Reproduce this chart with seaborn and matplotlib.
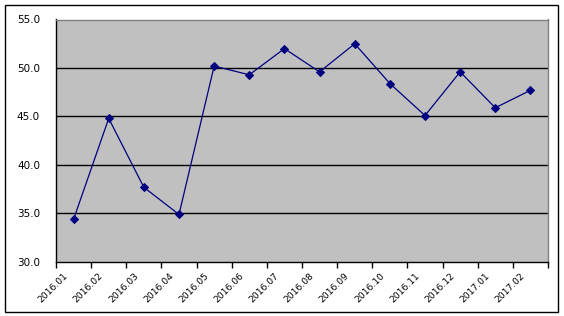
import matplotlib
matplotlib.use("Agg")
import matplotlib.pyplot as plt
import seaborn as sns
import pandas as pd
from matplotlib.patches import Rectangle
from matplotlib.ticker import FixedLocator, FixedFormatter
from matplotlib.transforms import ScaledTranslation

months = ["2016.01", "2016.02", "2016.03", "2016.04", "2016.05", "2016.06", "2016.07",
          "2016.08", "2016.09", "2016.10", "2016.11", "2016.12", "2017.01", "2017.02"]
values = [34.4, 44.8, 37.7, 34.9, 50.2, 49.3, 52.0, 49.6, 52.5, 48.4, 45.1, 49.6, 45.9, 47.7]
y_ticks = [30.0, 35.0, 40.0, 45.0, 50.0, 55.0]

sns.set_theme(style="white")
plt.rcParams['font.family'] = ['DejaVu Sans']

df = pd.DataFrame({"idx": list(range(len(months))), "value": values})

fig = plt.figure(figsize=(5.64, 3.16), dpi=100)
ax = fig.add_axes([56/564, 1-262/316, (548-56)/564, (262-19.5)/316])
ax.set_facecolor("#C0C0C0")

for yv in y_ticks[1:-1]:
    ax.axhline(yv, color="black", lw=1.0, zorder=1)

sns.lineplot(data=df, x="idx", y="value", ax=ax, color="#000080", lw=0.9,
             marker="D", markersize=3.8, markeredgecolor="#000080", zorder=3)

ax.set_xlim(-0.5, len(months) - 0.5)
ax.set_ylim(30, 55)
ax.set_xlabel("")
ax.set_ylabel("")

ax.set_yticks(y_ticks)
ax.set_yticklabels([f"{v:.1f}" for v in y_ticks], fontsize=7.5)
ax.tick_params(axis="y", length=0, pad=11.5, colors="black")

ax.xaxis.set_major_locator(FixedLocator([i - 0.5 for i in range(len(months) + 1)]))
ax.xaxis.set_major_formatter(FixedFormatter([""] * (len(months) + 1)))
ax.xaxis.set_minor_locator(FixedLocator(list(range(len(months)))))
ax.xaxis.set_minor_formatter(FixedFormatter(months))
ax.tick_params(axis="x", which="major", length=4, width=1, color="black", direction="out", bottom=True)
ax.tick_params(axis="x", which="minor", length=0, pad=9, labelsize=6.6, colors="black")
offset = ScaledTranslation(-7/100, 0, fig.dpi_scale_trans)
for lab in ax.get_xticklabels(minor=True):
    lab.set_rotation(45)
    lab.set_ha("right")
    lab.set_va("center")
    lab.set_rotation_mode("anchor")
    lab.set_transform(lab.get_transform() + offset)

for side in ["left", "bottom"]:
    ax.spines[side].set_color("black")
    ax.spines[side].set_linewidth(1.0)
for side in ["top", "right"]:
    ax.spines[side].set_color("#808080")
    ax.spines[side].set_linewidth(1.0)
    ax.spines[side].set_visible(True)

fig.patches.append(Rectangle((5/564, 4.5/316), 553/564, 307/316, transform=fig.transFigure,
                             fill=False, edgecolor="black", lw=1.0))

fig.savefig("out.png", dpi=100, facecolor="white")
